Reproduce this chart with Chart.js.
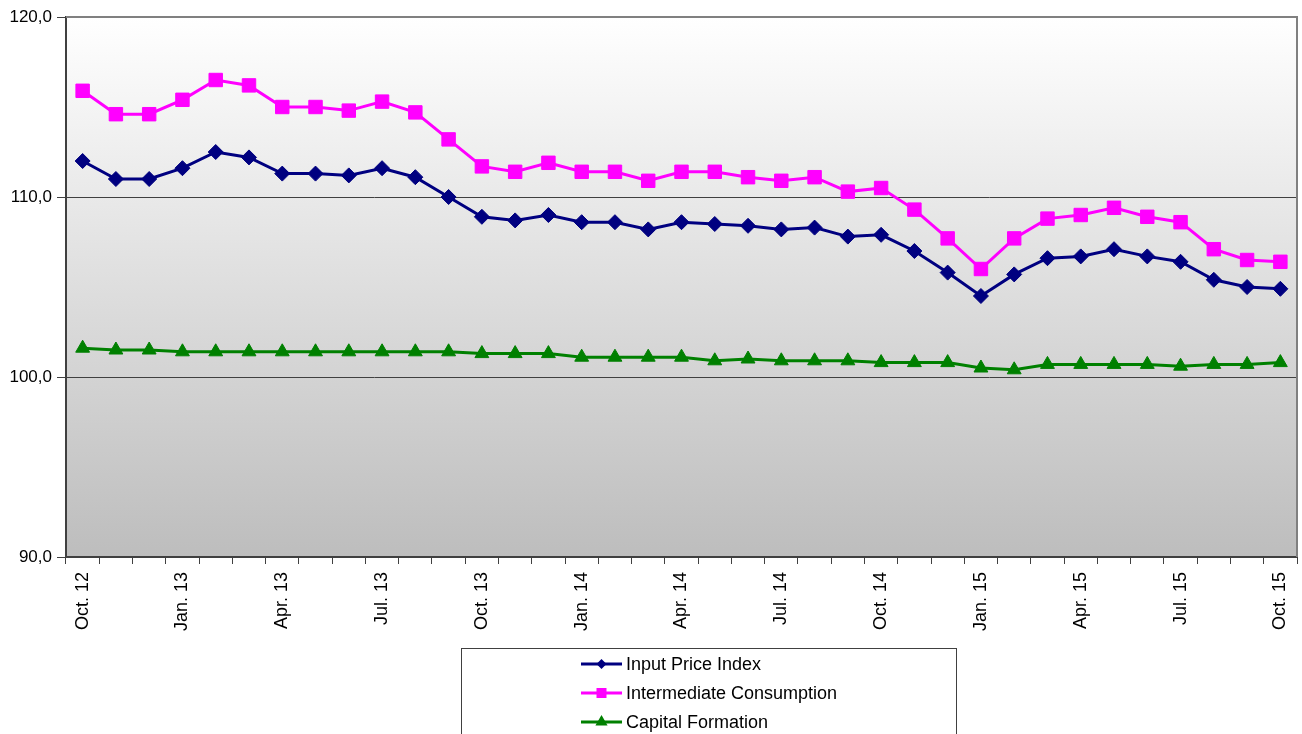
<!DOCTYPE html>
<html lang="en">
<head>
    <meta charset="UTF-8">
    <title>Input Price Index</title>
    <script src="https://cdn.jsdelivr.net/npm/chart.js"></script>
    <style>
        html, body { margin: 0; padding: 0; background: #ffffff; }
        .chart-container { width: 1302px; height: 734px; position: relative; }
    </style>
</head>
<body>
    <div class="chart-container">
        <canvas id="priceChart"></canvas>
    </div>

    <script>
        // Monthly categories, Oct. 12 - Oct. 15
        const months = [
            'Oct. 12', 'Nov. 12', 'Dec. 12', 'Jan. 13', 'Feb. 13', 'Mar. 13', 'Apr. 13', 'May 13', 'Jun. 13',
            'Jul. 13', 'Aug. 13', 'Sep. 13', 'Oct. 13', 'Nov. 13', 'Dec. 13', 'Jan. 14', 'Feb. 14', 'Mar. 14',
            'Apr. 14', 'May 14', 'Jun. 14', 'Jul. 14', 'Aug. 14', 'Sep. 14', 'Oct. 14', 'Nov. 14', 'Dec. 14',
            'Jan. 15', 'Feb. 15', 'Mar. 15', 'Apr. 15', 'May 15', 'Jun. 15', 'Jul. 15', 'Aug. 15', 'Sep. 15',
            'Oct. 15'
        ];

        const inputPriceIndex = [
            112.0, 111.0, 111.0, 111.6, 112.5, 112.2, 111.3, 111.3, 111.2, 111.6, 111.1, 110.0,
            108.9, 108.7, 109.0, 108.6, 108.6, 108.2, 108.6, 108.5, 108.4, 108.2, 108.3, 107.8,
            107.9, 107.0, 105.8, 104.5, 105.7, 106.6, 106.7, 107.1, 106.7, 106.4, 105.4, 105.0,
            104.9
        ];

        const intermediateConsumption = [
            115.9, 114.6, 114.6, 115.4, 116.5, 116.2, 115.0, 115.0, 114.8, 115.3, 114.7, 113.2,
            111.7, 111.4, 111.9, 111.4, 111.4, 110.9, 111.4, 111.4, 111.1, 110.9, 111.1, 110.3,
            110.5, 109.3, 107.7, 106.0, 107.7, 108.8, 109.0, 109.4, 108.9, 108.6, 107.1, 106.5,
            106.4
        ];

        const capitalFormation = [
            101.6, 101.5, 101.5, 101.4, 101.4, 101.4, 101.4, 101.4, 101.4, 101.4, 101.4, 101.4,
            101.3, 101.3, 101.3, 101.1, 101.1, 101.1, 101.1, 100.9, 101.0, 100.9, 100.9, 100.9,
            100.8, 100.8, 100.8, 100.5, 100.4, 100.7, 100.7, 100.7, 100.7, 100.6, 100.7, 100.7,
            100.8
        ];

        const yTicks = [90, 100, 110, 120];

        const FONT = '"Liberation Sans", Arial, sans-serif';

        // Grey gradient behind the plot area
        const plotBackground = {
            id: 'plotBackground',
            beforeDraw(chart) {
                const { ctx, chartArea: a } = chart;
                const g = ctx.createLinearGradient(0, a.top, 0, a.bottom);
                g.addColorStop(0, '#ffffff');
                g.addColorStop(1, '#bdbdbd');
                ctx.save();
                ctx.fillStyle = g;
                ctx.fillRect(a.left, a.top, a.right - a.left, a.bottom - a.top);
                ctx.restore();
            },
            beforeDatasetsDraw(chart) {
                const { ctx, chartArea: a } = chart;
                ctx.save();
                ctx.strokeStyle = '#808080';
                ctx.lineWidth = 2;
                ctx.beginPath();
                ctx.moveTo(a.left, a.top);
                ctx.lineTo(a.right, a.top);
                ctx.lineTo(a.right, a.bottom);
                ctx.stroke();
                ctx.restore();
            }
        };

        function drawMarker(ctx, style, x, y, r) {
            ctx.beginPath();
            if (style === 'rectRot') {
                ctx.moveTo(x, y - r);
                ctx.lineTo(x + r, y);
                ctx.lineTo(x, y + r);
                ctx.lineTo(x - r, y);
            } else if (style === 'rect') {
                ctx.rect(x - r, y - r, 2 * r, 2 * r);
            } else {
                ctx.moveTo(x, y - r);
                ctx.lineTo(x + r * 0.87, y + r * 0.5);
                ctx.lineTo(x - r * 0.87, y + r * 0.5);
            }
            ctx.closePath();
            ctx.fill();
        }

        // Boxed legend below the chart
        const boxLegend = {
            id: 'boxLegend',
            afterDraw(chart) {
                const ctx = chart.ctx;
                const sizes = { rectRot: 5, rect: 5, triangle: 7 };
                ctx.save();
                ctx.fillStyle = '#ffffff';
                ctx.fillRect(461, 648, 496, 100);
                ctx.strokeStyle = '#404040';
                ctx.lineWidth = 1;
                ctx.strokeRect(461.5, 648.5, 495, 100);
                ctx.font = '18px ' + FONT;
                ctx.textBaseline = 'middle';
                chart.data.datasets.forEach((ds, i) => {
                    const y = 664 + i * 29;
                    ctx.strokeStyle = ds.borderColor;
                    ctx.fillStyle = ds.borderColor;
                    ctx.lineWidth = 3;
                    ctx.beginPath();
                    ctx.moveTo(581, y);
                    ctx.lineTo(622, y);
                    ctx.stroke();
                    drawMarker(ctx, ds.pointStyle, 601.5, y, sizes[ds.pointStyle]);
                    ctx.fillStyle = '#000000';
                    ctx.fillText(ds.label, 626, y + 1);
                });
                ctx.restore();
            }
        };

        function series(label, data, color, style, radius) {
            return {
                label: label,
                data: data,
                borderColor: color,
                backgroundColor: color,
                borderWidth: 3,
                pointStyle: style,
                pointRadius: radius,
                pointHoverRadius: radius,
                pointBorderWidth: 1,
                tension: 0
            };
        }

        const ctx = document.getElementById('priceChart').getContext('2d');
        const priceChart = new Chart(ctx, {
            type: 'line',
            data: {
                labels: months,
                datasets: [
                    series('Input Price Index', inputPriceIndex, '#000080', 'rectRot', 7.5),
                    series('Intermediate Consumption', intermediateConsumption, '#ff00ff', 'rect', 9.5),
                    series('Capital Formation', capitalFormation, '#008000', 'triangle', 8)
                ]
            },
            options: {
                responsive: true,
                maintainAspectRatio: false,
                animation: false,
                layout: {
                    autoPadding: false,
                    padding: { top: 17, right: 5, left: 0, bottom: 0 }
                },
                plugins: {
                    legend: { display: false },
                    tooltip: { enabled: false }
                },
                scales: {
                    x: {
                        type: 'category',
                        offset: true,
                        grid: {
                            offset: true,
                            drawOnChartArea: false,
                            drawTicks: true,
                            tickLength: 7,
                            color: '#404040'
                        },
                        border: { color: '#404040', width: 2 },
                        ticks: {
                            autoSkip: false,
                            minRotation: 90,
                            maxRotation: 90,
                            padding: 8,
                            color: '#000000',
                            font: { family: FONT, size: 18 },
                            callback: (value, index) => index % 3 === 0 ? months[index] : ''
                        },
                        afterFit: scale => {
                            scale.height = 177;
                            scale.paddingLeft = 0;
                            scale.paddingRight = 0;
                        }
                    },
                    y: {
                        min: yTicks[0],
                        max: yTicks[yTicks.length - 1],
                        afterBuildTicks: scale => { scale.ticks = yTicks.map(v => ({ value: v })); },
                        grid: {
                            color: '#404040',
                            lineWidth: 1,
                            tickLength: 9
                        },
                        border: { color: '#404040', width: 2 },
                        ticks: {
                            padding: 5,
                            color: '#000000',
                            font: { family: FONT, size: 17 },
                            callback: v => v.toFixed(1).replace('.', ',')
                        },
                        afterFit: scale => { scale.width = 66; }
                    }
                }
            },
            plugins: [plotBackground, boxLegend]
        });
    </script>
</body>
</html>
